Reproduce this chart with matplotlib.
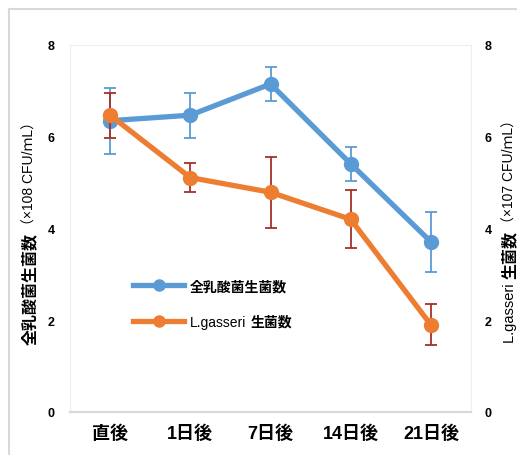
import matplotlib
matplotlib.use("Agg")
import matplotlib.pyplot as plt
from matplotlib import font_manager
from matplotlib.lines import Line2D
from matplotlib.text import Annotation

# ---- data ----
categories = ["直後", "1日後", "7日後", "14日後", "21日後"]
total_lab = [6.35, 6.47, 7.15, 5.41, 3.71]          # 全乳酸菌生菌数 (×10^8 CFU/mL)
total_lab_err = [0.72, 0.49, 0.37, 0.37, 0.66]
gasseri = [6.47, 5.11, 4.79, 4.20, 1.90]            # L.gasseri 生菌数 (×10^7 CFU/mL)
gasseri_err = [0.49, 0.31, 0.77, 0.63, 0.45]
y_ticks = [0, 2, 4, 6, 8]

# ---- fonts ----
installed = {f.name for f in font_manager.fontManager.ttflist}
latin = "Liberation Sans" if "Liberation Sans" in installed else "DejaVu Sans"
jp = "Noto Sans CJK JP"
num_fam = [latin, jp]
jp_fam = [jp, "DejaVu Sans"]

blue = "#5B9BD5"
orange = "#ED7D31"
dark_red = "#A5302A"

W, H = 517, 456
fig = plt.figure(figsize=(W / 100, H / 100), dpi=100)
fig.patch.set_facecolor("white")

# outer chart border
fig.add_artist(Line2D([9 / W, 9 / W], [0, 1 - 10 / H], transform=fig.transFigure,
                      color="#D9D9D9", lw=1.5))
fig.add_artist(Line2D([9 / W, 1], [1 - 10 / H, 1 - 10 / H], transform=fig.transFigure,
                      color="#D9D9D9", lw=1.5))

left, right, top, bottom = 70, 471, 46, 413
ax = fig.add_axes([left / W, 1 - bottom / H, (right - left) / W, (bottom - top) / H])
ax2 = ax.twinx()

x = list(range(len(categories)))

ax.errorbar(x, total_lab, yerr=total_lab_err, fmt="none", ecolor=blue,
            elinewidth=1.3, capsize=4, capthick=1.3, zorder=2)
ax.plot(x, total_lab, color=blue, lw=3.8, marker="o", markersize=10,
        zorder=3, label="全乳酸菌生菌数")

ax2.errorbar(x, gasseri, yerr=gasseri_err, fmt="none", ecolor=dark_red,
             elinewidth=1.3, capsize=4, capthick=1.3, zorder=2)
ax2.plot(x, gasseri, color=orange, lw=3.8, marker="o", markersize=10,
         zorder=3, label="L.gasseri")

for a in (ax, ax2):
    a.set_ylim(0, 8)
    a.set_yticks(y_ticks)
    a.set_xlim(-0.5, len(categories) - 0.5)
    for s in ("top", "left", "right"):
        a.spines[s].set_color("#EEEEEE")
        a.spines[s].set_linewidth(0.8)
    a.spines["bottom"].set_color("#D9D9D9")
    a.spines["bottom"].set_linewidth(1.5)

ax.set_xticks(x)
ax.set_xticklabels(categories)
for t in ax.get_xticklabels():
    t.set_fontfamily(num_fam)
    t.set_fontweight("bold")
    t.set_fontsize(13)
ax.tick_params(axis="x", length=0, pad=9)
ax.tick_params(axis="y", length=0, pad=11)
ax2.tick_params(axis="y", length=0, pad=10)
for t in ax.get_yticklabels() + ax2.get_yticklabels():
    t.set_fontfamily(num_fam)
    t.set_fontweight("bold")
    t.set_fontsize(9)

# legend
handles = [Line2D([], [], color=blue, lw=3.8, marker="o", markersize=8),
           Line2D([], [], color=orange, lw=3.8, marker="o", markersize=8)]
leg = ax.legend(handles, ["全乳酸菌生菌数", "L.gasseri"], loc="center left",
                bbox_to_anchor=(0.157, 0.294), frameon=False, borderpad=0,
                borderaxespad=0, handlelength=3.7, handletextpad=0.4,
                labelspacing=1.55, prop={"size": 10})
lt = leg.get_texts()
lt[0].set_fontfamily(jp_fam)
lt[0].set_fontweight("bold")
lt[1].set_fontfamily(num_fam)
fig.add_artist(Annotation("生菌数", xy=(1, 0.5), xycoords=lt[1], xytext=(3, 0),
                          textcoords="offset points", ha="left", va="center",
                          fontsize=10, fontweight="bold", family=jp_fam))


def stacked_label(x_px, y_px, pieces):
    """Vertical axis title built from pieces of differing weight, bottom to top."""
    prev = None
    for txt, weight, fam, size in pieces:
        if prev is None:
            prev = fig.text(x_px / W, 1 - y_px / H, txt, rotation=90, ha="center",
                            va="bottom", fontsize=size, fontweight=weight, family=fam)
        else:
            prev = fig.add_artist(Annotation(
                txt, xy=(0.5, 1), xycoords=prev, xytext=(0, 0.5),
                textcoords="offset points", rotation=90, ha="center", va="bottom",
                fontsize=size, fontweight=weight, family=fam))


stacked_label(30, 345, [("全乳酸菌生菌数", "bold", jp_fam, 11.5),
                        ("（×108 CFU/ｍL）", "normal", num_fam, 10)])
stacked_label(510, 343, [("L.gasseri ", "normal", num_fam, 10.5),
                         ("生菌数", "bold", jp_fam, 11.5),
                         ("（×107 CFU/ｍL）", "normal", num_fam, 10)])

fig.savefig("out.png", dpi=100, facecolor="white")
